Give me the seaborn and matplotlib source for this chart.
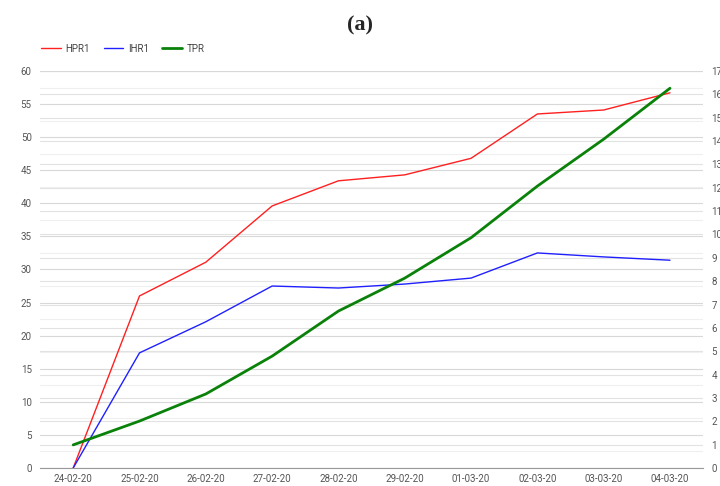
import pandas as pd
import numpy as np
import matplotlib
matplotlib.use("Agg")
import matplotlib.pyplot as plt
import seaborn as sns

dates = ["24-02-20", "25-02-20", "26-02-20", "27-02-20", "28-02-20",
         "29-02-20", "01-03-20", "02-03-20", "03-03-20", "04-03-20"]
hpr1 = [0, 26.0, 31.1, 39.6, 43.4, 44.3, 46.8, 53.5, 54.1, 56.7]
ihr1 = [0, 17.4, 22.1, 27.5, 27.2, 27.8, 28.7, 32.5, 31.9, 31.4]
tpr = [0.99, 2.01, 3.17, 4.79, 6.72, 8.13, 9.86, 12.07, 14.08, 16.26]

df = pd.DataFrame({"date": dates, "pos": range(len(dates)),
                   "HPR1": hpr1, "IHR1": ihr1, "TPR": tpr})

sns.set_style("white")
plt.rcParams['font.family'] = ['Roboto', 'DejaVu Sans']

fig = plt.figure(figsize=(7.2, 4.86), dpi=100)
ax = fig.add_axes([0.0556, 0.037, 0.921, 0.817])
ax_r = ax.twinx()   # right scale: ticks + grid, drawn underneath
ax_t = ax.twinx()   # TPR line on top of everything
ax_r.set_zorder(0)
ax.set_zorder(1)
ax_t.set_zorder(2)
ax.patch.set_visible(False)
ax_t.patch.set_visible(False)

sns.lineplot(data=df, x="pos", y="HPR1", ax=ax, color="#ff2020", linewidth=1.0, legend=False)
sns.lineplot(data=df, x="pos", y="IHR1", ax=ax, color="#2020ff", linewidth=1.0, legend=False)
sns.lineplot(data=df, x="pos", y="TPR", ax=ax_t, color="#0a820a", linewidth=2.0, legend=False)

ax.set_xlim(-0.5, len(dates) - 0.5)
ax.set_ylim(0, 60)
ax_r.set_ylim(0, 17)
ax_t.set_ylim(0, 17)
ax.set_xticks(df["pos"])
ax.set_xticklabels(dates)
ax.set_yticks(np.arange(0, 61, 5))
ax.set_yticks(np.arange(0, 61, 2.5), minor=True)
ax_r.set_yticks(np.arange(0, 18, 1))
ax_t.set_yticks([])

ax.grid(True, axis="y", which="major", color="#d8d8d8", linewidth=0.8)
ax.grid(True, axis="y", which="minor", color="#efefef", linewidth=0.8)
ax_r.grid(True, axis="y", color="#e2e2e2", linewidth=0.8)

for a in (ax, ax_r, ax_t):
    a.set_xlabel("")
    a.set_ylabel("")
    for s in ("top", "left", "right"):
        a.spines[s].set_visible(False)
    a.spines["bottom"].set_color("#999999")
    a.tick_params(axis="both", which="both", length=0, labelsize=7, labelcolor="#555555", pad=6)
ax.tick_params(axis="x", pad=4)
ax_t.spines["bottom"].set_visible(False)
ax_r.spines["bottom"].set_visible(False)

handles = [plt.Line2D([], [], color="#ff2020", lw=1.0),
           plt.Line2D([], [], color="#2020ff", lw=1.0),
           plt.Line2D([], [], color="#0a820a", lw=2.0)]
fig.legend(handles, ["HPR1", "IHR1", "TPR"], loc="center left", bbox_to_anchor=(0.045, 0.9),
           ncol=3, frameon=False, fontsize=7, handlelength=2.0, handletextpad=0.5,
           columnspacing=1.4, labelcolor="#444444")

fig.text(0.5, 0.948, "(a)", ha="center", va="center", fontsize=16, fontweight="bold",
         family=["Liberation Serif", "DejaVu Serif"])

fig.savefig("out.png", dpi=100)
